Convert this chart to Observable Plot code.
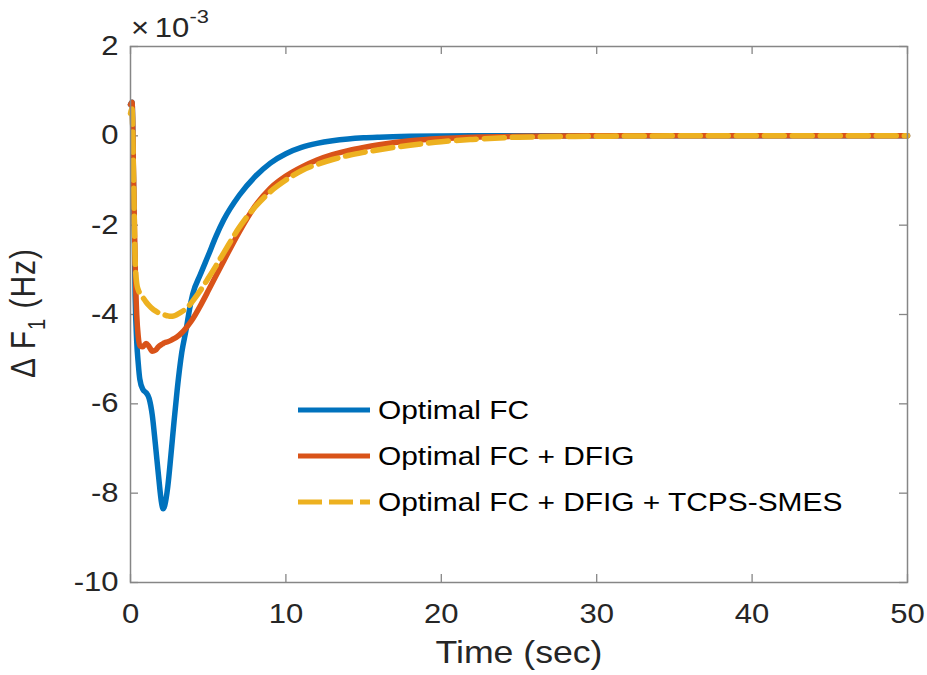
<!DOCTYPE html>
<html>
<head>
<meta charset="utf-8">
<script src="https://cdn.jsdelivr.net/npm/d3@7"></script>
<script src="https://cdn.jsdelivr.net/npm/@observablehq/plot@0.6"></script>
<style>
  html, body { margin: 0; padding: 0; background: #fff; }
  #chart { width: 927px; height: 675px; }
</style>
</head>
<body>
<div id="chart"></div>
<script>
// ---- data (ΔF1 in units of 1e-3 Hz) ----
const times = [0, 0.1, 0.2, 0.3, 0.4, 0.5, 0.6, 0.8, 1.0, 1.2, 1.4, 1.6, 1.8, 2.0, 2.1, 2.2, 2.4, 2.6, 2.8, 3.0,
  3.3, 3.6, 3.8, 4.0, 4.5, 5, 5.5, 6, 7, 8, 9, 10, 11, 12, 13, 14, 15, 16, 18, 20, 22, 25, 30, 35, 40, 45, 50];
const optimalFC = [0.7, 0.75, -1.2, -3.6, -4.6, -5.1, -5.45, -5.68, -5.75, -5.88, -6.25, -6.9, -7.6, -8.22, -8.35, -8.28, -7.85, -7.15, -6.4, -5.7,
  -4.85, -4.3, -3.88, -3.55, -3.1, -2.68, -2.25, -1.88, -1.33, -0.92, -0.61, -0.40, -0.26, -0.17, -0.11, -0.07, -0.045, -0.03, -0.012, -0.004, 0, 0, 0, 0, 0, 0, 0];
const optimalFCDFIG = [0.7, 0.75, -1.0, -2.9, -4.0, -4.5, -4.7, -4.72, -4.65, -4.72, -4.82, -4.8, -4.72, -4.67, -4.65, -4.63, -4.61, -4.58, -4.54, -4.5,
  -4.41, -4.29, -4.2, -4.1, -3.8, -3.47, -3.13, -2.8, -2.15, -1.58, -1.17, -0.9, -0.7, -0.54, -0.42, -0.33, -0.26, -0.2, -0.11, -0.06, -0.03, -0.01, 0, 0, 0, 0, 0];
const optimalFCDFIGTCPS = [0.5, 0.6, -1.0, -2.8, -3.3, -3.45, -3.52, -3.62, -3.72, -3.8, -3.87, -3.92, -3.96, -3.99, -4.0, -4.01, -4.03, -4.04, -4.03, -4.0,
  -3.94, -3.86, -3.79, -3.7, -3.46, -3.19, -2.91, -2.62, -2.05, -1.6, -1.25, -0.99, -0.78, -0.64, -0.53, -0.44, -0.37, -0.31, -0.21, -0.13, -0.08, -0.03, -0.01, 0, 0, 0, 0];
const seriesNames = ["Optimal FC", "Optimal FC + DFIG", "Optimal FC + DFIG + TCPS-SMES"];
const seriesColors = ["#0072BD", "#D95319", "#EDB120"];
const seriesDash = [null, null, "20,8"];
const xTicks = [0, 10, 20, 30, 40, 50];
const xTickLabels = ["0", "10", "20", "30", "40", "50"];
const yTicks = [-10, -8, -6, -4, -2, 0, 2];
const yTickLabels = ["-10", "-8", "-6", "-4", "-2", "0", "2"];
const xLabel = "Time (sec)";

// ---- layout ----
const W = 927, H = 675;
const mL = 130, mR = 20, mT = 46, mB = 93;
const innerW = W - mL - mR, innerH = H - mT - mB;
const tickLen = 8;
const axisColor = "#868686";
const textColor = "#262626";
const fontFamily = "'Liberation Sans', Arial, sans-serif";

const allSeries = [optimalFC, optimalFCDFIG, optimalFCDFIGTCPS];
const rows = [];
allSeries.forEach((vals, s) => times.forEach((t, i) => rows.push({t, v: vals[i], s: seriesNames[s]})));

const lineMarks = seriesNames.map((name, s) =>
  Plot.line(rows.filter(r => r.s === name), {
    x: "t", y: "v", stroke: seriesColors[s], strokeWidth: 5.5,
    strokeDasharray: seriesDash[s] || undefined, curve: "monotone-x",
    strokeLinejoin: "round"
  })
);

const svg = Plot.plot({
  width: W, height: H,
  marginLeft: mL, marginRight: mR, marginTop: mT, marginBottom: mB,
  style: {fontFamily, background: "white", color: textColor},
  x: {domain: [0, 50], axis: null},
  y: {domain: [-10, 2], axis: null},
  marks: [
    // inward ticks on all four sides
    Plot.ruleX(xTicks, {x: d => d, insetTop: innerH - tickLen, stroke: axisColor, strokeWidth: 1.3}),
    Plot.ruleX(xTicks, {x: d => d, insetBottom: innerH - tickLen, stroke: axisColor, strokeWidth: 1.3}),
    Plot.ruleY(yTicks, {y: d => d, insetRight: innerW - tickLen, stroke: axisColor, strokeWidth: 1.3}),
    Plot.ruleY(yTicks, {y: d => d, insetLeft: innerW - tickLen, stroke: axisColor, strokeWidth: 1.3}),
    ...lineMarks,
    Plot.frame({stroke: axisColor, strokeWidth: 1.5}),
    // tick labels
    Plot.text(xTicks, {x: d => d, frameAnchor: "bottom", lineAnchor: "top", dy: 21,
      text: (d, i) => xTickLabels[i], fontSize: 27, fill: textColor}),
    Plot.text(yTicks, {y: d => d, frameAnchor: "left", textAnchor: "end", dx: -12,
      text: (d, i) => yTickLabels[i], fontSize: 27, fill: textColor}),
    // x label
    Plot.text([xLabel], {frameAnchor: "bottom", lineAnchor: "top", dy: 58, text: d => d,
      fontSize: 31, fill: textColor})
  ]
});

const root = d3.select(svg);

// legend (inside the axes)
const legend = root.append("g").attr("font-family", fontFamily).attr("text-anchor", "start");
seriesNames.forEach((name, s) => {
  const cy = 410 + s * 46;
  legend.append("line")
    .attr("x1", 298).attr("x2", 370).attr("y1", cy).attr("y2", cy)
    .attr("stroke", seriesColors[s]).attr("stroke-width", 5)
    .attr("stroke-dasharray", seriesDash[s] ? "24,7" : null);
  legend.append("text")
    .attr("transform", `translate(378,${cy})`)
    .attr("text-anchor", "start")
    .attr("dy", "0.35em").attr("font-size", 26).attr("fill", "#000")
    .text(name);
});

// exponent note
const expo = root.append("text")
  .attr("transform", "translate(131,37)")
  .attr("text-anchor", "start")
  .attr("font-family", fontFamily)
  .attr("font-size", 27).attr("fill", textColor);
expo.append("tspan").text("×");
expo.append("tspan").attr("dx", 5).text("10");
expo.append("tspan").attr("font-size", 19).attr("dy", "-0.75em").text("-3");

// horizontal stretch of the reference's lettering
root.selectAll("text").each(function() {
  const tr = this.getAttribute("transform") || "";
  this.setAttribute("transform", tr + " scale(1.15,1)");
});

// y label: Δ F₁ (Hz)
const yl = root.append("text")
  .attr("transform", "translate(35,313) rotate(-90) scale(1,1.15)")
  .attr("text-anchor", "middle")
  .attr("font-family", fontFamily)
  .attr("font-size", 30).attr("fill", textColor)
  .attr("letter-spacing", 1);
yl.append("tspan").text("Δ F");
yl.append("tspan").attr("font-size", 20).attr("dy", "0.45em").text("1");
yl.append("tspan").attr("dy", "-0.3em").text(" (Hz)");

document.getElementById("chart").appendChild(svg);
</script>
</body>
</html>
